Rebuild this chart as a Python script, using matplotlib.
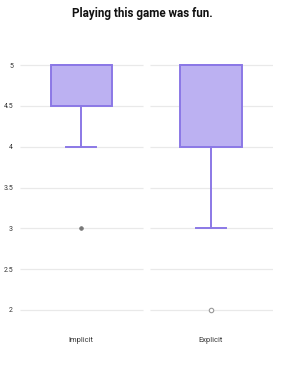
import matplotlib
matplotlib.use("Agg")
import matplotlib.pyplot as plt

categories = ["Implicit", "Explicit"]
q1 = [4.5, 4.0]
median = [5.0, 5.0]
q3 = [5.0, 5.0]
whisker_low = [4.0, 3.0]
whisker_high = [5.0, 5.0]
outliers = [[3.0], [2.0]]
outlier_filled = [True, False]
yticks = [2, 2.5, 3, 3.5, 4, 4.5, 5]
ytick_labels = ["2", "2.5", "3", "3.5", "4", "4.5", "5"]
title = "Playing this game was fun."

plt.rcParams["font.family"] = ["Roboto", "DejaVu Sans"]

W, H = 299, 380
fig = plt.figure(figsize=(W / 100, H / 100), dpi=100)
ax_left, ax_right = 20, 273
y_top_px, y_bot_px = 40.5, 334.5
ax = fig.add_axes([ax_left / W, 1 - y_bot_px / H, (ax_right - ax_left) / W, (y_bot_px - y_top_px) / H])
ax.set_xlim(-0.47, 1.477)
ax.set_ylim(1.7, 5.3)

positions = list(range(len(categories)))
# band gridlines
for p in positions:
    ax.hlines(yticks, p - 0.47, p + 0.477, colors="#e9e9e9", linewidth=0.9, zorder=0)

stats = []
for i, c in enumerate(categories):
    stats.append(dict(label=c, q1=q1[i], med=median[i], q3=q3[i],
                      whislo=whisker_low[i], whishi=whisker_high[i], fliers=[]))
purple = "#8b78e6"
ax.bxp(stats, positions=positions, widths=0.47, patch_artist=True, showfliers=False,
       boxprops=dict(facecolor="#bcb1f2", edgecolor=purple, linewidth=1.4),
       whiskerprops=dict(color=purple, linewidth=1.4),
       capprops=dict(color=purple, linewidth=1.4),
       medianprops=dict(color=purple, linewidth=1.4),
       capwidths=0.23)

for i, vals in enumerate(outliers):
    for v in vals:
        if outlier_filled[i]:
            ax.plot([positions[i]], [v], "o", ms=2.6, mfc="#777777", mec="#777777", mew=0.6, zorder=3)
        else:
            ax.plot([positions[i]], [v], "o", ms=3.2, mfc="white", mec="#999999", mew=0.8, zorder=3)

for s in ax.spines.values():
    s.set_visible(False)
ax.set_yticks(yticks)
ax.set_yticklabels(ytick_labels, fontsize=5, color="#333333")
ax.set_xticks(positions)
ax.set_xticklabels(categories, fontsize=5.4, color="#333333")
ax.tick_params(axis="both", length=0)
ax.tick_params(axis="y", pad=5)
ax.tick_params(axis="x", pad=2)

fig.text(142 / W, 1 - 13 / H, title, ha="center", va="center", fontsize=8.4, fontweight="bold", color="#111111")
fig.savefig("out.png", dpi=100)
